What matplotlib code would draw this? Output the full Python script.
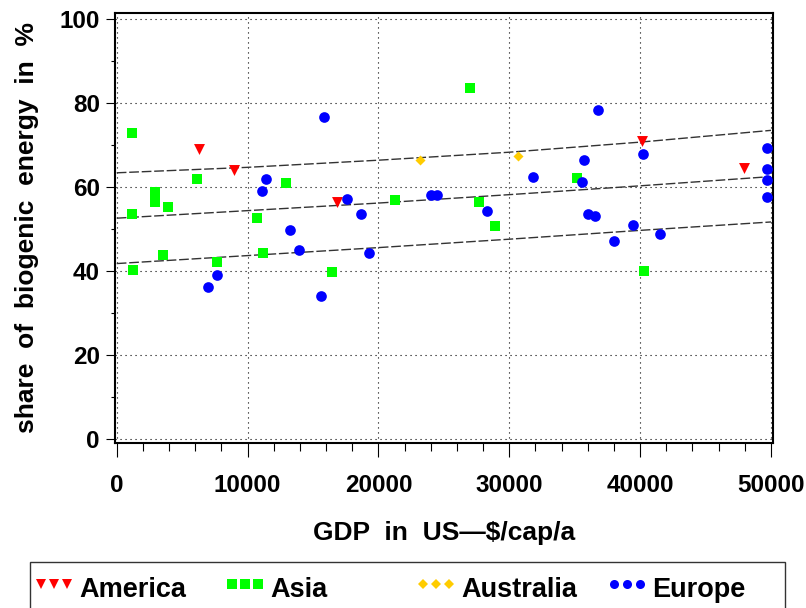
import matplotlib
matplotlib.use('Agg')
import matplotlib.pyplot as plt
from matplotlib.lines import Line2D
from matplotlib.patches import Rectangle
from matplotlib.ticker import MultipleLocator

# datos: PIB (US-$/cap/a) y proporción de energía biogénica (%)
america_gdp = [6300, 9000, 16800, 40150, 47900]
america_share = [69.0, 63.9, 56.4, 70.9, 64.4]

asia_gdp = [1190, 6100, 2920, 2920, 3890, 1170, 10700, 12940, 21290, 27010,
            27720, 28870, 35170, 3560, 1240, 7700, 11190, 16430, 40290]
asia_share = [72.7, 61.8, 58.8, 56.3, 55.2, 53.5, 52.5, 60.9, 56.8, 83.4,
              56.4, 50.7, 62.1, 43.7, 40.2, 42.0, 44.1, 39.6, 40.0]

australia_gdp = [23150, 30690]
australia_share = [66.3, 67.4]

europe_gdp = [15820, 11370, 11110, 17620, 18690, 13250, 23980, 24490, 36800, 35730,
              40210, 31790, 35530, 28310, 35990, 36570, 39420, 49670, 49670, 49670,
              49670, 7630, 6970, 13910, 15640, 19300, 37970, 41480]
europe_share = [76.5, 61.9, 59.0, 57.0, 53.6, 49.6, 58.0, 58.0, 78.3, 66.4,
                67.7, 62.2, 61.0, 54.2, 53.6, 53.0, 50.8, 69.1, 64.1, 61.6,
                57.5, 38.9, 36.1, 44.9, 33.9, 44.3, 47.1, 48.8]

band_x = [0, 10000, 20000, 30000, 40000, 50000]
band_upper = [63.3, 64.6, 66.3, 68.2, 70.6, 73.4]
band_mid = [52.5, 54.3, 56.1, 58.1, 60.2, 62.4]
band_lower = [41.7, 43.6, 45.5, 47.5, 49.6, 51.6]

xticks = [0, 10000, 20000, 30000, 40000, 50000]
yticks = [0, 20, 40, 60, 80, 100]

plt.rcParams['font.family'] = ['Liberation Sans', 'DejaVu Sans']
plt.rcParams['font.weight'] = 'bold'

W, H = 806, 608
fig = plt.figure(figsize=(W / 100, H / 100), dpi=100)
ax = fig.add_axes([114.5 / W, 1 - 443 / H, (772.7 - 114.5) / W, (443 - 12.7) / H])

# bandas (líneas discontinuas)
for band in (band_upper, band_mid, band_lower):
    ax.plot(band_x, band, color='#333333', linewidth=1.0,
            linestyle=(0, (7, 2)), zorder=2)

ax.scatter(america_gdp, america_share, marker='v', s=62, color='#ff0000', linewidths=0, zorder=3)
ax.scatter(asia_gdp, asia_share, marker='s', s=52, color='#00ff00', linewidths=0, zorder=3)
ax.scatter(australia_gdp, australia_share, marker='D', s=26, color='#ffcc00', linewidths=0, zorder=3)
ax.scatter(europe_gdp, europe_share, marker='o', s=59, color='#0000ff', linewidths=0, zorder=3)

ax.set_xlim(-170, 50130)
ax.set_ylim(-1, 101.4)
ax.set_xticks(xticks)
ax.set_yticks(yticks)
ax.xaxis.set_minor_locator(MultipleLocator(2000))
ax.yaxis.set_minor_locator(MultipleLocator(10))

ax.grid(True, which='major', color='black', linewidth=0.8, linestyle=(0, (1, 3.5)))
ax.set_axisbelow(True)

ax.tick_params(axis='x', which='major', direction='out', length=10, width=0.8, pad=12, labelsize=17.5)
ax.tick_params(axis='x', which='minor', direction='out', length=5.8, width=0.8)
ax.tick_params(axis='y', which='major', direction='out', length=6.5, width=0.8, pad=4, labelsize=17.5)
ax.tick_params(axis='y', which='minor', direction='out', length=3.2, width=0.8)

for sp in ax.spines.values():
    sp.set_linewidth(1.5)

ax.set_xlabel('GDP  in  US\u2014$/cap/a', fontsize=19, fontweight='bold')
ax.xaxis.set_label_coords(0.501, -0.182)
ax.set_ylabel('share  of  biogenic  energy  in  %', fontsize=19, fontweight='bold')
ax.yaxis.set_label_coords(-0.115, 0.5)

# leyenda dibujada a mano: columnas con el mismo ancho
def fpos(x, y):
    return x / W, 1 - y / H

fig.add_artist(Rectangle(fpos(30, 650), (785 - 30) / W, (650 - 561.7) / H,
                         transform=fig.transFigure, fill=False,
                         edgecolor='#333333', linewidth=1.0))

legend_items = [('America', 'v', '#ff0000', 6.5),
                ('Asia', 's', '#00ff00', 7.0),
                ('Australia', 'D', '#ffcc00', 5.2),
                ('Europe', 'o', '#0000ff', 6.5)]
for i, (name, mk, col, ms) in enumerate(legend_items):
    x0 = 36 + 191 * i
    for k in range(3):
        mx, my = fpos(x0 + 5 + 13 * k, 583.5)
        fig.add_artist(Line2D([mx], [my], marker=mk, markersize=ms, color=col,
                              markeredgewidth=0, linestyle='none',
                              transform=fig.transFigure))
    tx, ty = fpos(x0 + 43.5, 597.3)
    fig.text(tx, ty, name, fontsize=19.5, fontweight='bold', va='baseline', ha='left')

fig.savefig('out.png', dpi=100)
